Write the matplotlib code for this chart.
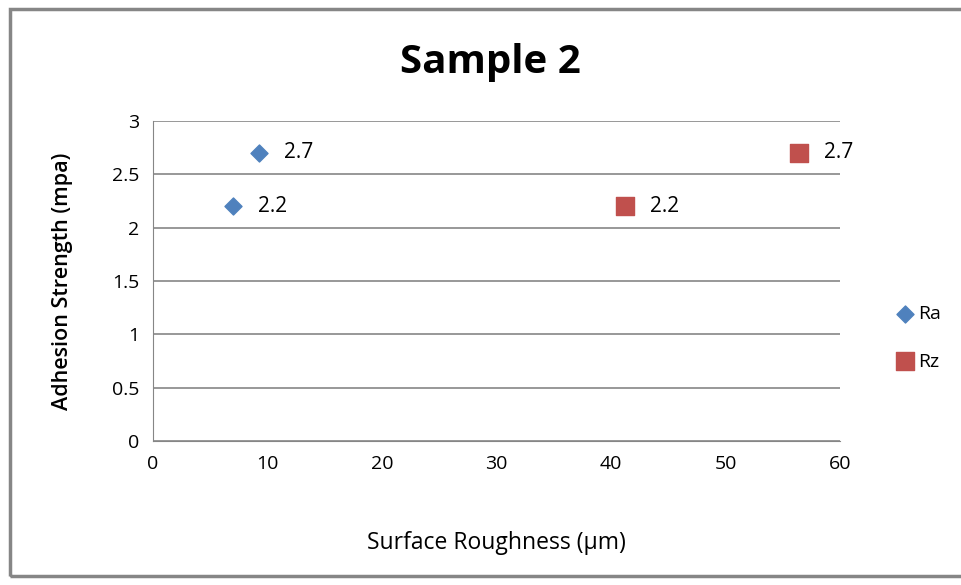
import matplotlib
matplotlib.use("Agg")
import matplotlib.pyplot as plt
from matplotlib.patches import Rectangle

plt.rcParams["font.family"] = ["Open Sans", "DejaVu Sans"]

ra_x = [7.0, 9.3]
ra_y = [2.2, 2.7]
rz_x = [41.2, 56.4]
rz_y = [2.2, 2.7]
x_ticks = [0, 10, 20, 30, 40, 50, 60]
y_ticks = [0, 0.5, 1, 1.5, 2, 2.5, 3]

fig = plt.figure(figsize=(9.61, 5.85), dpi=100)
ax = fig.add_axes([153 / 961, 1 - 441 / 585, (840 - 153) / 961, (441 - 121) / 585])

# outer chart border
fig.patches.append(Rectangle((10 / 961, 1 - 576 / 585), 1.0, (576 - 9) / 585,
                             transform=fig.transFigure, fill=False,
                             edgecolor="#868686", linewidth=2.5))

ax.scatter(ra_x, ra_y, marker="D", s=75, color="#4F81BD", label="Ra", zorder=3)
ax.scatter(rz_x, rz_y, marker="s", s=150, color="#C0504D", label="Rz", zorder=3)

for x, y in zip(ra_x + rz_x, ra_y + rz_y):
    ax.annotate(f"{y:g}", (x, y), xytext=(18, 0), textcoords="offset points",
                va="center", ha="left", fontsize=15)

ax.set_xlim(0, 60)
ax.set_ylim(0, 3)
ax.set_xticks(x_ticks)
ax.set_yticks(y_ticks)
ax.set_yticklabels([f"{v:g}" for v in y_ticks])
ax.tick_params(axis="both", length=0, labelsize=14, pad=10)
ax.grid(axis="y", color="#868686", linewidth=1.2)
ax.set_axisbelow(True)
for side in ["top", "right"]:
    ax.spines[side].set_visible(False)
ax.spines["left"].set_color("#868686")
ax.spines["bottom"].set_color("#868686")

ax.set_xlabel("Surface Roughness (\u00b5m)", fontsize=16.5, labelpad=42)
ax.set_ylabel("Adhesion Strength (mpa)", fontsize=15.5, fontweight="semibold", labelpad=28)
fig.text(490 / 961, 1 - 62 / 585, "Sample 2", fontsize=29, fontweight="bold",
         ha="center", va="center")

ax.legend(loc="center left", bbox_to_anchor=(876 / 961, 1 - 338 / 585),
          bbox_transform=fig.transFigure, frameon=False, fontsize=14,
          handletextpad=0.05, labelspacing=1.5, handlelength=1.2)

fig.savefig("out.png", dpi=100)
